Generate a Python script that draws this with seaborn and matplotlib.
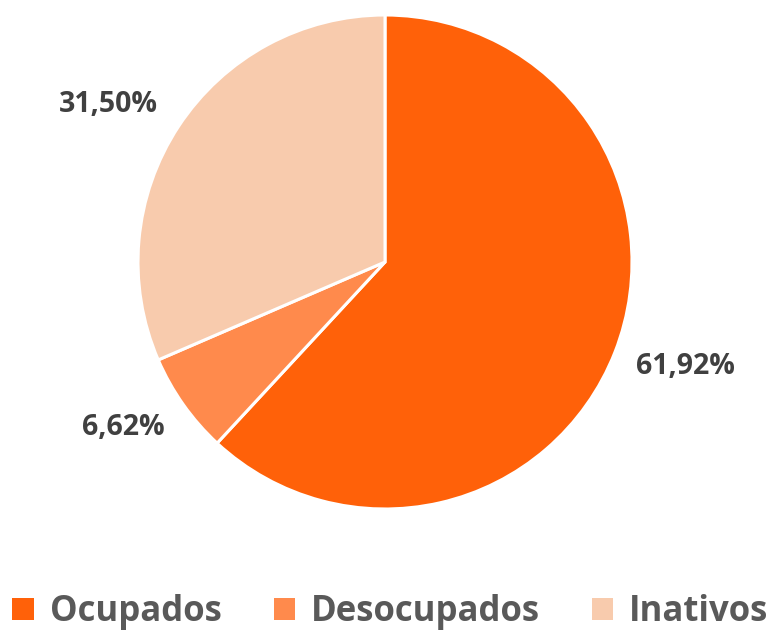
import matplotlib
matplotlib.use("Agg")
import matplotlib.pyplot as plt
import seaborn as sns
from matplotlib.patches import Patch

# Data
categorias = ["Ocupados", "Desocupados", "Inativos"]
valores = [61.92, 6.62, 31.50]
rotulos = ["61,92%", "6,62%", "31,50%"]
cores = ["#FF6109", "#FF8A4C", "#F8CBAD"]

sns.set_theme(style="white")
plt.rcParams["font.family"] = ["Open Sans", "DejaVu Sans"]
palette = sns.color_palette(cores)

fig = plt.figure(figsize=(7.7, 6.33), dpi=100)
# pie area: center (385, 262) px, radius 247 px
ax = fig.add_axes([(385 - 247) / 770, 1 - (262 + 247) / 633, 494 / 770, 494 / 633])

wedges, textos = ax.pie(
    valores, colors=palette, startangle=90, counterclock=False,
    labels=rotulos, labeldistance=1.28,
    wedgeprops={"edgecolor": "white", "linewidth": 2.2},
    textprops={"fontsize": 20.5, "fontweight": "bold", "color": "#404040"},
)
# label placement (data units, radius = 1), like Excel's outside-end labels
pos_rotulos = [(1.215, -0.425), (-1.061, -0.672), (-1.121, 0.636)]
for t, p in zip(textos, pos_rotulos):
    t.set_position(p)
    t.set_ha("center")
    t.set_va("center")

ax.set_xlim(-1, 1)
ax.set_ylim(-1, 1)
ax.set_aspect("equal")
ax.axis("off")

handles = [Patch(facecolor=c, edgecolor="none") for c in palette]
leg = fig.legend(handles, categorias, loc="lower center", bbox_to_anchor=(0.507, -0.045),
                 ncol=3, frameon=False, handlelength=0.62, handleheight=0.62,
                 handletextpad=0.45, columnspacing=1.5,
                 prop={"size": 25, "weight": "bold"})
for t in leg.get_texts():
    t.set_color("#595959")

fig.savefig("out.png", dpi=100)
